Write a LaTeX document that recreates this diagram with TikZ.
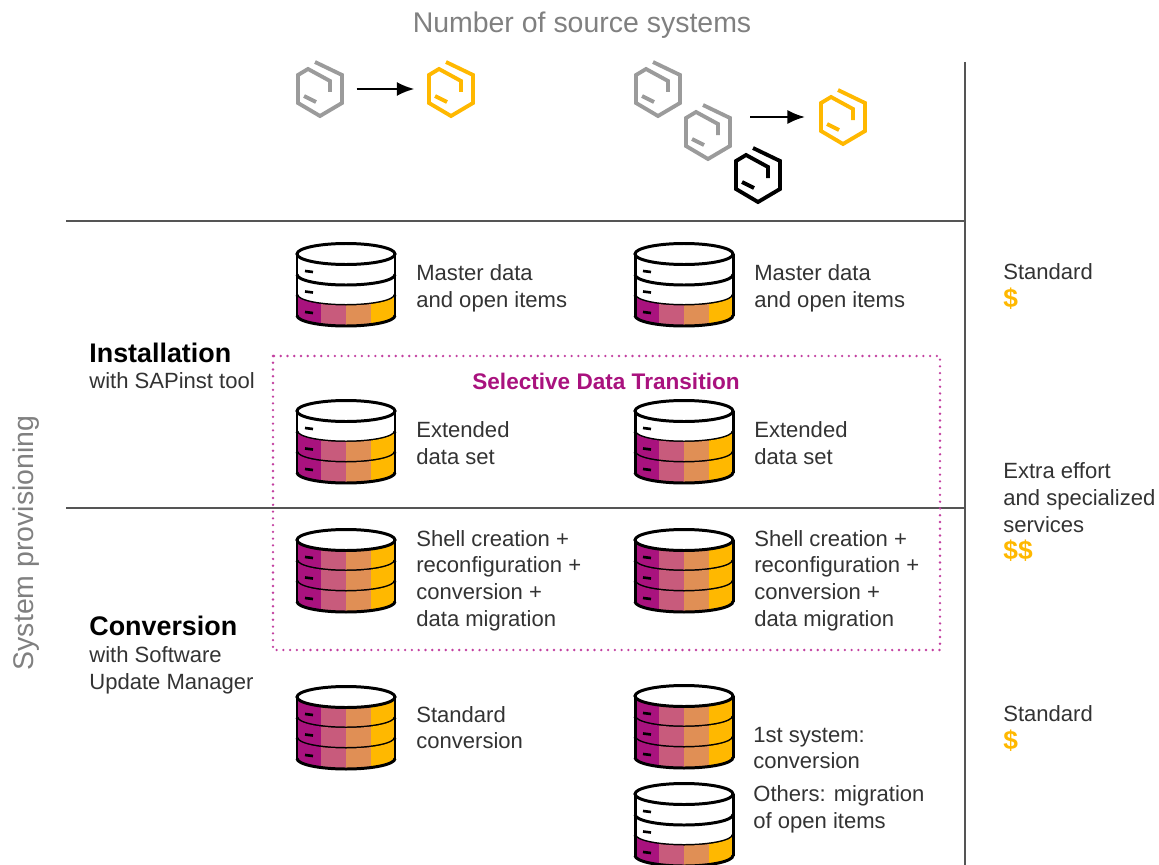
\documentclass[tikz,border=0pt]{standalone}
\usepackage{fontspec}
\setmainfont{Liberation Sans}
\usetikzlibrary{arrows.meta}
\tikzset{>={Latex[length=10pt,width=8pt]}}
\definecolor{sapMagenta}{HTML}{A9127E}
\definecolor{sapDots}{HTML}{C23FA0}
\definecolor{sapRose}{HTML}{C85B7C}
\definecolor{sapOrange}{HTML}{E08F55}
\definecolor{sapYellow}{HTML}{FFB800}
\definecolor{sapGray}{HTML}{9B9B9B}
\definecolor{sapTitle}{HTML}{808080}
\definecolor{sapRule}{HTML}{555555}
\tikzset{
  lbl/.style={anchor=west,align=left,inner sep=0pt,text=black!80,font=\fontsize{12.55}{15.2}\selectfont},
  head/.style={anchor=west,inner sep=0pt,text=black,font=\fontsize{15.3}{17}\selectfont\bfseries},
  price/.style={anchor=west,inner sep=0pt,text=sapYellow,font=\fontsize{15}{15}\selectfont\bfseries},
  gtitle/.style={inner sep=0pt,text=sapTitle,font=\fontsize{16.2}{18}\selectfont},
  rule/.style={draw=sapRule,line width=0.8pt},
  slot/.style={circle,inner sep=0pt,minimum size=1.45cm}
}
\begin{document}
\begin{tikzpicture}[x=0.02cm,y=-0.02cm]
  \useasboundingbox (0,0) rectangle (1159,865);

  % help functions

        % Hexagon icon: centre x, centre y, colour
  \def\hexIcon(#1,#2,#3){
    \draw[#3,line width=2.2pt,line join=miter] ({#1-5},{#2-27}) -- ({#1+22},{#2-14}) -- ({#1+22},{#2+14})
      -- (#1,{#2+27}) -- ({#1-22},{#2+14}) -- ({#1-22},{#2-14}) -- ({#1-12},{#2-20})
      -- ({#1+10},{#2-8}) -- ({#1+10},{#2+3});
    \draw[#3,line width=2.2pt] ({#1-16},{#2+7}) -- ({#1-4},{#2+13});
  }
        % Database icon: centre x, y of top disc, number of coloured bands
  \def\dbIcon(#1,#2,#3){
    \foreach \band in {0,1,2}{
      \pgfmathsetmacro\yy{#2+\band*20.5}
      \pgfmathsetmacro\yz{\yy+20.5}
      \ifnum \band>\numexpr 2-#3 \relax
        \begin{scope}
          \clip ({#1-49},\yy) arc[start angle=180,end angle=0,x radius=49,y radius=10.5]
            -- ({#1+49},\yz) arc[start angle=0,end angle=180,x radius=49,y radius=10.5] -- cycle;
          \fill[sapMagenta] ({#1-50},{\yy-2}) rectangle ({#1-25},{\yz+12});
          \fill[sapRose] ({#1-25},{\yy-2}) rectangle (#1,{\yz+12});
          \fill[sapOrange] (#1,{\yy-2}) rectangle ({#1+25},{\yz+12});
          \fill[sapYellow] ({#1+25},{\yy-2}) rectangle ({#1+50},{\yz+12});
        \end{scope}
      \fi
      \draw[black,line width=1.7pt] ({#1-49},\yz) arc[start angle=180,end angle=0,x radius=49,y radius=10.5];
      \draw[black,line width=1.5pt] ({#1-41},{\yy+17}) -- ({#1-33},{\yy+18});
    }
    \draw[black,line width=1.7pt] ({#1-49},#2) -- ({#1-49},{#2+61.5});
    \draw[black,line width=1.7pt] ({#1+49},#2) -- ({#1+49},{#2+61.5});
    \draw[black,line width=1.7pt,fill=white] (#1,#2) ellipse[x radius=49,y radius=10.5];
  }

  % rules
  \draw[rule] (965,62) -- (965,865);
  \draw[rule] (66,221) -- (965,221);
  \draw[rule] (66,508) -- (965,508);

  % titles
  \node[gtitle] (sourceTitle) at (582,25) {Number of source systems};
  \node[gtitle,rotate=90] (provTitle) at (26,543) {System provisioning};

  % SOURCE SYSTEMS
  \hexIcon(320,89,sapGray)
  \hexIcon(451,89,sapYellow)
  \hexIcon(658,89,sapGray)
  \hexIcon(708,132,sapGray)
  \hexIcon(758,175,black)
  \hexIcon(843,117,sapYellow)
  \node[slot] (srcOne) at (320,89) {};
  \node[slot] (dstOne) at (451,89) {};
  \coordinate (srcMany) at (750,117);
  \coordinate (dstMany) at (805,117);
  \draw[->,line width=1.3pt] (srcOne) -- (dstOne);
  \draw[->,line width=1.3pt] (srcMany) -- (dstMany);

  % DATABASES
  \dbIcon(346,254,1)
  \dbIcon(684,254,1)
  \dbIcon(346,411,2)
  \dbIcon(684,411,2)
  \dbIcon(346,540,3)
  \dbIcon(684,540,3)
  \dbIcon(346,697,3)
  \dbIcon(684,696,3)
  \dbIcon(684,794,1)

  % selective frame
  \draw[sapDots,line cap=round,dash pattern=on 0pt off 3.85pt,line width=1.5pt] (273,356) rectangle (940,650);
  \node[inner sep=0pt,text=sapMagenta,font=\fontsize{12.85}{15}\selectfont\bfseries] (selective) at (606,381) {Selective Data Transition};

  % ROW HEADS
  \node[head] (install) at (89,353) {Installation};
  \node[lbl] (installTool) at (89,381) {with SAPinst tool};
  \node[head] (convert) at (89,626) {Conversion};
  \node[lbl] (convertTool) at (89,670) {with Software\\Update Manager};

  % LABELS
  \node[lbl] (masterA) at (416,288) {Master data\\and open items};
  \node[lbl] (masterB) at (754,288) {Master data\\and open items};
  \node[lbl] (extendedA) at (416,443) {Extended\\data set};
  \node[lbl] (extendedB) at (754,443) {Extended\\data set};
  \node[lbl] (shellA) at (416,580.5) {Shell creation +\\reconfiguration +\\conversion +\\data migration};
  \node[lbl] (shellB) at (754,580.5) {Shell creation +\\reconfiguration +\\conversion +\\data migration};
  \node[lbl] (standardA) at (416,727.5) {Standard\\conversion};
  \node[lbl] (firstB) at (753,748) {1st system:\\conversion};
  \node[lbl] (othersB) at (753,809) {Others: migration\\of open items};

  % COST
  \node[lbl] (costOne) at (1003,272) {Standard};
  \node[price] (priceOne) at (1003,299) {\$};
  \node[lbl] (costTwo) at (1003,497.5) {Extra effort\\and specialized\\services};
  \node[price] (priceTwo) at (1003,551) {\$\$};
  \node[lbl] (costThree) at (1003,714) {Standard};
  \node[price] (priceThree) at (1003,741) {\$};
\end{tikzpicture}
\end{document}
